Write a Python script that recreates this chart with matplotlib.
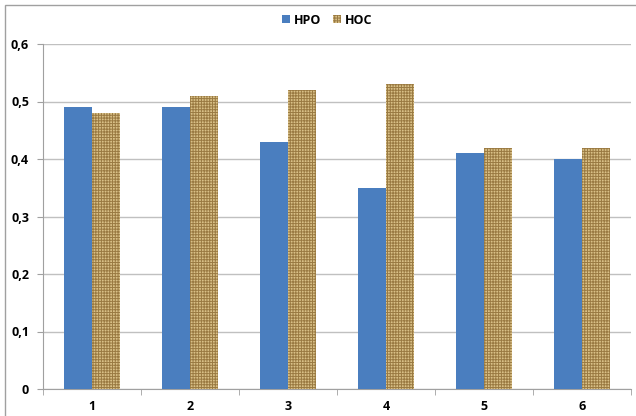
import matplotlib
matplotlib.use("Agg")
import matplotlib.pyplot as plt
import numpy as np
from matplotlib.patches import Rectangle, Patch

categories = ["1", "2", "3", "4", "5", "6"]
hpo = [0.49, 0.49, 0.43, 0.35, 0.41, 0.40]
hoc = [0.48, 0.51, 0.52, 0.53, 0.42, 0.42]
yticks = [0, 0.1, 0.2, 0.3, 0.4, 0.5, 0.6]
ytick_labels = ["0", "0,1", "0,2", "0,3", "0,4", "0,5", "0,6"]

plt.rcParams['font.family'] = ['Open Sans', 'DejaVu Sans']
plt.rcParams['hatch.linewidth'] = 0.7

fig = plt.figure(figsize=(6.36, 4.16), dpi=100)
ax = fig.add_axes([43/636, 1-389/416, 588/636, 345/416])

x = np.arange(len(categories))
w = 0.286
blue = "#4a7ebf"
tan = "#d9c087"
hatch_col = "#9a7a42"
ax.bar(x - w/2, hpo, width=w, color=blue, zorder=3)
ax.bar(x + w/2, hoc, width=w, facecolor=tan, edgecolor=hatch_col, hatch="++++++", linewidth=0, zorder=3)

ax.set_xlim(-0.5, len(categories) - 0.5)
ax.set_ylim(0, 0.6)
ax.set_yticks(yticks)
ax.set_yticklabels(ytick_labels, fontsize=9, fontweight='bold')
ax.set_xticks(x)
ax.set_xticklabels(categories, fontsize=9, fontweight='bold')
ax.set_xticks(np.arange(len(categories) + 1) - 0.5, minor=True)
ax.tick_params(axis='x', which='major', length=0, pad=8)
ax.tick_params(axis='x', which='minor', length=4, color="#a0a0a0", direction='out')
ax.tick_params(axis='y', length=4, color="#a0a0a0", pad=6)
ax.grid(axis='y', color="#c0c0c0", linewidth=1, zorder=0)
for s in ['top', 'right']:
    ax.spines[s].set_visible(False)
for s in ['left', 'bottom']:
    ax.spines[s].set_color("#a0a0a0")

handles = [Patch(facecolor=blue, label="HPO"),
           Patch(facecolor=tan, edgecolor=hatch_col, hatch="++++++", linewidth=0, label="HOC")]
leg = fig.legend(handles=handles, loc='center', bbox_to_anchor=(327/636, 1-20/416), ncol=2,
                 frameon=False, prop={'weight': 'bold', 'size': 9},
                 handlelength=0.65, handleheight=0.65, handletextpad=0.3, columnspacing=0.9)

fig.patches.append(Rectangle((5/636, -0.1), 1.2, 1 - 5/416 + 0.1, transform=fig.transFigure,
                             fill=False, edgecolor="#a0a0a0", linewidth=1))

fig.savefig("out.png", dpi=100)
